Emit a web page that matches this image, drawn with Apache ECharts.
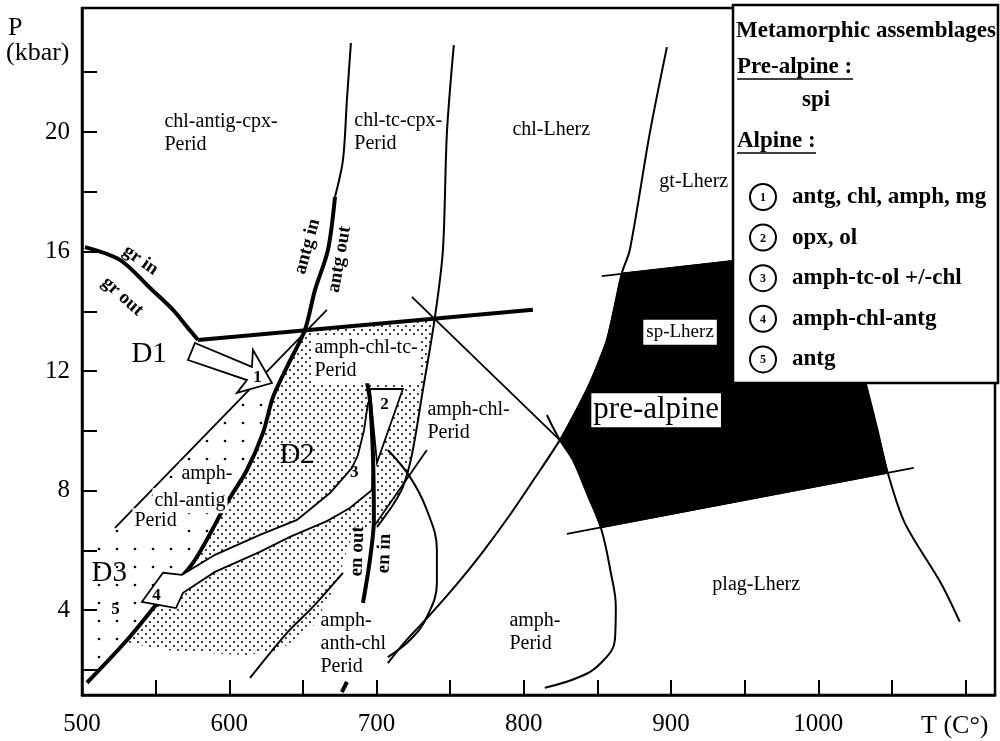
<!DOCTYPE html>
<html>
<head>
<meta charset="utf-8">
<title>P-T diagram</title>
<script src="https://cdn.jsdelivr.net/npm/echarts@6/dist/echarts.min.js"></script>
<style>
  html, body { margin: 0; background: #fff; }
  #chart { width: 1000px; height: 741px; }
</style>
</head>
<body>
<div id="chart"></div>
<script>
// axis ticks (T in °C, P in kbar)
const tempTicks = [500, 550, 600, 650, 700, 750, 800, 850, 900, 950, 1000, 1050, 1100];
const tempLabels = [500, 600, 700, 800, 900, 1000];
const pressTicks = [2, 4, 6, 8, 10, 12, 14, 16, 18, 20, 22];
const pressLabels = [4, 8, 12, 16, 20];

// reaction curves, [T, P]
const grCurve = [[502.0, 16.15], [525.8, 15.72], [546.2, 14.78], [561.8, 14.05], [571.3, 13.48], [578.8, 13.04]];
const grBaseLine = [[578.8, 13.04], [806.2, 14.05]];
const antgUpper = [[682.6, 22.98], [679.9, 21.07], [677.2, 19.06], [671.8, 17.83]];
const antgLower = [[671.8, 17.83], [667.0, 16.05], [658.2, 14.71], [651.4, 13.38], [639.9, 12.21], [629.7, 11.13],
    [622.9, 9.93], [612.0, 8.69], [598.4, 7.59], [575.4, 5.58], [553.0, 4.34], [530.6, 3.0], [503.4, 1.57]];
const antgThinLine = [[666.3, 14.05], [522.4, 6.75]];
const chlTcCurve = [[752.5, 22.91], [747.8, 19.97], [745.1, 16.05], [739.6, 13.78], [731.5, 11.37], [724.0, 9.19],
    [717.9, 8.12], [711.1, 7.52], [700.3, 6.78]];
const diagLine = [[724.0, 14.48], [824.5, 9.69]];
const amphPeridEdge = [[815.7, 10.53], [824.5, 9.69], [833.3, 9.03], [842.8, 7.92], [852.4, 6.75], [859.1, 5.25],
    [862.5, 4.11], [861.9, 3.0], [852.4, 2.23], [838.1, 1.77], [814.3, 1.40]];
const gtCurve = [[897.2, 22.84], [885.6, 19.97], [872.0, 16.05], [866.6, 15.28], [856.4, 13.04], [844.9, 11.60],
    [833.3, 10.47], [824.5, 9.69], [807.5, 8.42], [789.2, 7.09], [772.2, 5.95], [755.3, 4.91], [736.3, 3.84],
    [719.3, 2.94], [707.7, 2.23]];
const cCurve = [[707.7, 9.36], [722.7, 8.46], [734.2, 7.35], [741.0, 6.01], [741.0, 4.91], [734.2, 3.77],
    [722.7, 3.0], [707.7, 2.43]];
const enInLine = [[734.2, 9.36], [698.9, 6.85]];
const enLine = [[692.1, 11.97], [695.5, 11.03], [697.6, 9.13], [698.2, 7.02], [695.5, 5.68], [690.8, 4.24]];
const enDash = [[676.5, 1.26], [679.9, 1.60]];
const anthLine = [[677.2, 5.25], [656.8, 4.11], [639.2, 3.24], [614.1, 1.73]];
const spTopLine = [[853.0, 15.18], [1011.2, 16.08]];
const plagLine = [[829.3, 6.55], [1064.8, 8.76]];
const spRightCurve = [[1011.2, 16.08], [1021.4, 13.71], [1032.9, 11.46], [1039.7, 10.13], [1047.2, 8.59],
    [1058.7, 6.92], [1083.2, 4.91], [1096.1, 3.61]];

// fields
const preAlpineField = [[866.6, 15.28], [1011.2, 16.08], [1021.4, 13.71], [1032.9, 11.46], [1039.7, 10.13],
    [1047.2, 8.59], [852.4, 6.76], [842.8, 7.92], [833.3, 9.03], [824.5, 9.69], [833.3, 10.47], [844.9, 11.60],
    [856.4, 13.04]];
const d2Field = [[651.4, 13.38], [739.6, 13.78], [731.5, 11.37], [724.0, 9.19], [717.9, 8.12], [711.1, 7.52],
    [700.3, 6.78], [685.3, 6.68], [679.9, 6.01], [673.1, 4.91], [656.8, 3.44], [634.4, 2.67], [612.0, 2.50],
    [566.5, 2.60], [530.6, 2.90], [530.6, 3.0], [553.0, 4.34], [575.4, 5.58], [598.4, 7.59], [612.0, 8.69],
    [622.9, 9.93], [629.7, 11.13], [639.9, 12.21]];
const d3Field = [[606.9, 11.03], [522.4, 6.75], [522.4, 6.2], [500, 6.2], [500, 1.16], [502, 1.16], [503.4, 1.57],
    [530.6, 3.0], [553.0, 4.34], [575.4, 5.58], [598.4, 7.59], [612.0, 8.69], [622.9, 9.93], [629.0, 11.03]];

// P-T path arrows
const arrowD1 = [[576.7, 12.94], [615.4, 12.14], [616.1, 12.71], [629.0, 11.60], [605.2, 11.27], [612.0, 11.70], [572.0, 12.37]];
const arrowStep2 = [[695.5, 11.40], [717.9, 11.40], [700.3, 8.93]];
const arrowD2D3 = [[694.2, 10.93], [691.5, 10.02], [687.4, 9.19], [683.3, 8.76], [668.4, 7.92], [646.0, 7.02],
    [620.8, 6.52], [590.3, 5.85], [567.9, 5.18], [555.0, 5.25], [540.7, 4.28], [563.8, 4.07], [568.6, 4.58],
    [590.3, 5.28], [620.8, 5.95], [641.2, 6.45], [666.3, 6.98], [681.9, 7.42], [696.9, 8.02], [697.6, 9.13],
    [695.5, 10.93]];

// labels: [text, T, P]
const fieldLabels = [
    ['chl-antig-cpx-\nPerid', 556.3, 20.70],
    ['chl-tc-cpx-\nPerid', 685.3, 20.74],
    ['chl-Lherz', 792.6, 20.44],
    ['gt-Lherz', 892.4, 18.70],
    ['amph-chl-\nPerid', 734.9, 11.07],
    ['amph-\nanth-chl\nPerid', 662.3, 4.01],
    ['amph-\nPerid', 790.6, 4.01],
    ['plag-Lherz', 928.4, 5.21]
];
const dottedLabels = [
    ['amph-chl-tc-\nPerid', 656.8, 13.18],
    ['amph-', 566.5, 8.96],
    ['chl-antig', 548.2, 8.06],
    ['Perid', 534.6, 7.39]
];
const stageLabels = [['D1', 533.9, 12.54], ['D2', 634.4, 9.16], ['D3', 506.8, 5.21]];
const stepLabels = [['1', 619.5, 11.77], ['2', 705.7, 10.87], ['3', 685.3, 8.59], ['4', 550.9, 4.48], ['5', 523.1, 4.01]];
// [text, T, P, angle along the curve]
const reactionLabels = [
    ['gr in', 540.1, 15.69, -35],
    ['gr out', 527.8, 14.48, -42],
    ['antg in', 653.4, 16.15, 75],
    ['antg out', 675.2, 15.72, 80],
    ['en out', 687.4, 5.95, 88],
    ['en in', 705.7, 5.88, 88]
];
const spLabel = ['sp-Lherz', 881.5, 13.28];
const preAlpineLabel = ['pre-alpine', 846.2, 10.67];

const assemblages = ['antg, chl, amph, mg', 'opx, ol', 'amph-tc-ol +/-chl', 'amph-chl-antg', 'antg'];

const serif = 'Liberation Serif';

function dotPattern(size, dots, r) {
    const c = document.createElement('canvas');
    c.width = size;
    c.height = size;
    const ctx = c.getContext('2d');
    ctx.fillStyle = '#000';
    dots.forEach(function (d) {
        ctx.beginPath();
        ctx.arc(d[0], d[1], r, 0, Math.PI * 2);
        ctx.fill();
    });
    return { image: c, repeat: 'repeat' };
}

function polygon(points, style, z) {
    return {
        type: 'custom',
        coordinateSystem: 'cartesian2d',
        silent: true,
        clip: true,
        z: z,
        data: [points[0]],
        renderItem: function (params, api) {
            return {
                type: 'polygon',
                shape: { points: points.map(function (p) { return api.coord(p); }) },
                style: style
            };
        }
    };
}

function curve(points, width, smooth, z) {
    return {
        type: 'line',
        data: points,
        symbol: 'none',
        smooth: smooth,
        silent: true,
        z: z || 3,
        lineStyle: { color: '#000', width: width }
    };
}

function labelSeries(items, label) {
    return {
        type: 'scatter',
        symbolSize: 1,
        silent: true,
        z: 10,
        itemStyle: { color: 'rgba(0,0,0,0)', opacity: 1 },
        data: items.map(function (it) {
            const l = Object.assign({ show: true, formatter: it[0], position: [0, 0] }, label);
            if (it.length > 3) {
                l.rotate = it[3];
            }
            return { value: [it[1], it[2]], label: l };
        })
    };
}

const fieldText = { fontFamily: serif, fontSize: 20, color: '#000', align: 'left', verticalAlign: 'top', lineHeight: 23 };

const chart = echarts.init(document.getElementById('chart'));

const boxFont = 'bold 23px ' + serif;
const graphic = [
    { type: 'text', x: 8, y: 28, z: 100, style: { text: 'P', font: '26px ' + serif, fill: '#000', verticalAlign: 'middle' } },
    { type: 'text', x: 6, y: 53, z: 100, style: { text: '(kbar)', font: '26px ' + serif, fill: '#000', verticalAlign: 'middle' } },
    { type: 'text', x: 921, y: 726, z: 100, style: { text: 'T (C°)', font: '26px ' + serif, fill: '#000', verticalAlign: 'middle' } },
    { type: 'rect', z: 100, shape: { x: 733, y: 5, width: 265, height: 378 }, style: { fill: '#fff', stroke: '#000', lineWidth: 2.5 } },
    { type: 'text', x: 736, y: 31, z: 101, style: { text: 'Metamorphic assemblages', font: boxFont, fill: '#000', verticalAlign: 'middle' } },
    { type: 'text', x: 737, y: 67, z: 101, style: { text: 'Pre-alpine :', font: boxFont, fill: '#000', verticalAlign: 'middle' } },
    { type: 'line', z: 101, shape: { x1: 737, y1: 79, x2: 853, y2: 79 }, style: { stroke: '#000', lineWidth: 1.6 } },
    { type: 'text', x: 802, y: 100, z: 101, style: { text: 'spi', font: boxFont, fill: '#000', verticalAlign: 'middle' } },
    { type: 'text', x: 737, y: 141, z: 101, style: { text: 'Alpine :', font: boxFont, fill: '#000', verticalAlign: 'middle' } },
    { type: 'line', z: 101, shape: { x1: 737, y1: 153, x2: 816, y2: 153 }, style: { stroke: '#000', lineWidth: 1.6 } }
];
assemblages.forEach(function (name, i) {
    const cy = 197 + i * 40.6;
    graphic.push({ type: 'circle', z: 101, shape: { cx: 763, cy: cy, r: 13 }, style: { fill: '#fff', stroke: '#000', lineWidth: 2 } });
    graphic.push({ type: 'text', x: 763, y: cy + 1, z: 102, style: { text: String(i + 1), font: 'bold 12px ' + serif, fill: '#000', align: 'center', verticalAlign: 'middle' } });
    graphic.push({ type: 'text', x: 792, y: cy, z: 101, style: { text: name, font: boxFont, fill: '#000', verticalAlign: 'middle' } });
});

chart.setOption({
    animation: false,
    backgroundColor: '#fff',
    grid: { left: 82, right: 5, top: 8, bottom: 46, show: true, borderColor: '#000', borderWidth: 2.5 },
    xAxis: {
        type: 'value',
        min: 500,
        max: 1120,
        axisLine: { lineStyle: { color: '#000', width: 2.5 } },
        axisTick: { inside: true, length: 15, customValues: tempTicks, lineStyle: { color: '#000', width: 2 } },
        axisLabel: { customValues: tempLabels, margin: 17, color: '#000', fontFamily: serif, fontSize: 25, formatter: function (v) { return String(v); } },
        splitLine: { show: false }
    },
    yAxis: {
        type: 'value',
        min: 1.16,
        max: 24.15,
        axisLine: { lineStyle: { color: '#000', width: 2.5 } },
        axisTick: { inside: true, length: 15, customValues: pressTicks, lineStyle: { color: '#000', width: 2 } },
        axisLabel: { customValues: pressLabels, margin: 12, color: '#000', fontFamily: serif, fontSize: 25, formatter: function (v) { return String(v); } },
        splitLine: { show: false }
    },
    graphic: graphic,
    series: [
        polygon(d3Field, { fill: dotPattern(18, [[9, 9]], 1.3), stroke: null }, 1),
        polygon(d2Field, { fill: dotPattern(8, [[2, 2], [6, 6]], 1.0), stroke: null }, 1),
        polygon(preAlpineField, { fill: '#000', stroke: '#000', lineWidth: 1 }, 1),

        curve(antgUpper, 2, 0.3),
        curve(antgThinLine, 1.8, false),
        curve(chlTcCurve, 2, 0.3),
        curve(diagLine, 1.8, false),
        curve(amphPeridEdge, 2, 0.4),
        curve(gtCurve, 2, 0.3),
        curve(cCurve, 2, 0.4),
        curve(enInLine, 1.8, false),
        curve(anthLine, 2, 0.3),
        curve(spTopLine, 1.8, false),
        curve(plagLine, 1.8, false),
        curve(spRightCurve, 2, 0.3),
        curve(grCurve, 4, 0.3, 4),
        curve(grBaseLine, 4, false, 4),
        curve(antgLower, 4, 0.3, 4),

        polygon(arrowD1, { fill: '#fff', stroke: '#000', lineWidth: 1.8, lineJoin: 'miter' }, 5),
        polygon(arrowD2D3, { fill: '#fff', stroke: '#000', lineWidth: 1.8, lineJoin: 'miter' }, 5),
        polygon(arrowStep2, { fill: '#fff', stroke: '#000', lineWidth: 1.8, lineJoin: 'miter' }, 5),

        curve(enLine, 4, 0.3, 6),
        curve(enDash, 4, false, 6),

        labelSeries(fieldLabels, fieldText),
        labelSeries(dottedLabels, Object.assign({}, fieldText, { backgroundColor: '#fff', padding: [1, 2] })),
        labelSeries(stageLabels, { fontFamily: serif, fontSize: 29, color: '#000', align: 'left', verticalAlign: 'middle' }),
        labelSeries(stepLabels, { fontFamily: serif, fontSize: 17, fontWeight: 'bold', color: '#000', align: 'center', verticalAlign: 'middle' }),
        labelSeries(reactionLabels, { fontFamily: serif, fontSize: 19, fontWeight: 'bold', color: '#000', align: 'center', verticalAlign: 'middle' }),
        labelSeries([spLabel], { fontFamily: serif, fontSize: 19, color: '#000', align: 'left', verticalAlign: 'middle', backgroundColor: '#fff', padding: [3, 3] }),
        labelSeries([preAlpineLabel], { fontFamily: serif, fontSize: 31, color: '#000', align: 'left', verticalAlign: 'middle', backgroundColor: '#fff', padding: [1, 2], lineHeight: 32 })
    ]
});
</script>
</body>
</html>
